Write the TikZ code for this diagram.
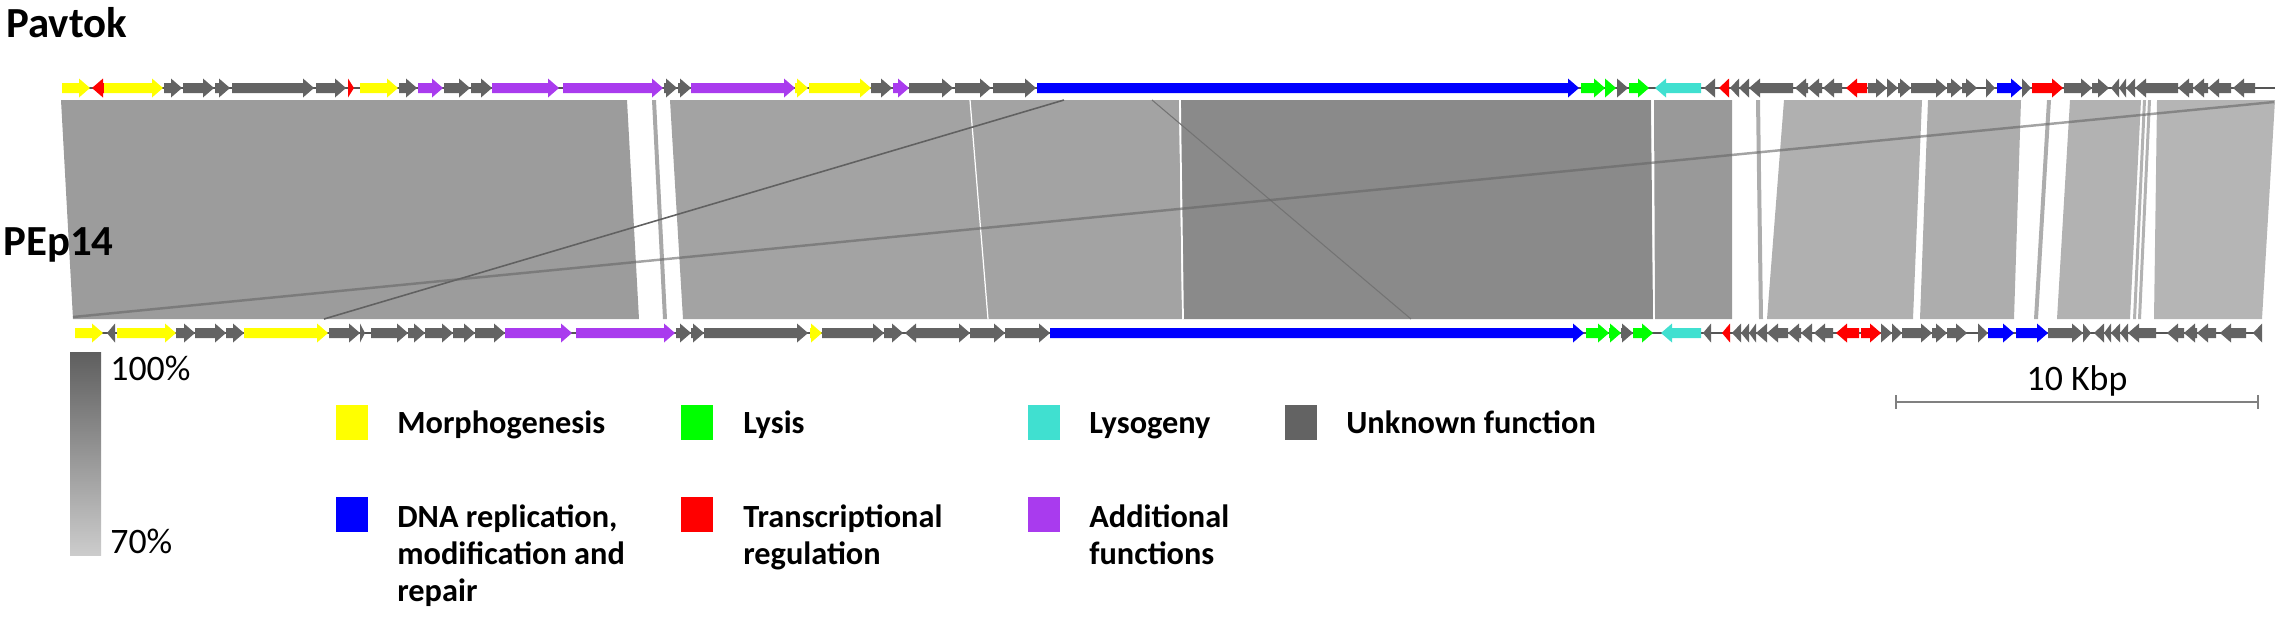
\documentclass[tikz,border=0pt]{standalone}
\usepackage{fontspec}
\setmainfont{Carlito}
\definecolor{morph}{HTML}{FFFF00}
\definecolor{lysis}{HTML}{00FF00}
\definecolor{lysog}{HTML}{40E0D0}
\definecolor{unk}{HTML}{636363}
\definecolor{dna}{HTML}{0000FF}
\definecolor{trans}{HTML}{FF0000}
\definecolor{addf}{HTML}{A93BEE}
\definecolor{trk}{HTML}{555555}
\newcommand{\genearrow}[5]{%
  \pgfmathsetmacro{\headlen}{min(11,(#2)-(#1))}%
  \if#4R%
    \fill[#5] (#1,#3-5) -- ({#2-\headlen},#3-5) -- ({#2-\headlen},#3-9.5) -- (#2,#3) -- ({#2-\headlen},#3+9.5) -- ({#2-\headlen},#3+5) -- (#1,#3+5) -- cycle;
  \else
    \fill[#5] (#2,#3-5) -- ({#1+\headlen},#3-5) -- ({#1+\headlen},#3-9.5) -- (#1,#3) -- ({#1+\headlen},#3+9.5) -- ({#1+\headlen},#3+5) -- (#2,#3+5) -- cycle;
  \fi}
\tikzset{
  trackline/.style={draw=trk, line width=1pt},
  genome/.style={font=\fontsize{24.4pt}{26pt}\selectfont\bfseries, anchor=base west, inner sep=0pt},
  legtext/.style={font=\fontsize{18.4pt}{20pt}\selectfont\bfseries, anchor=base west, inner sep=0pt},
  scaletext/.style={font=\fontsize{20.4pt}{22pt}\selectfont, anchor=base west, inner sep=0pt},
  legbox/.style={inner sep=0pt, minimum width=0.64cm, minimum height=0.7cm, draw=none},
  sep/.style={draw=white, line width=0.7pt},
  match/.style={draw=#1, line width=0.9pt},
}
\begin{document}
\begin{tikzpicture}[x=0.02cm, y=-0.02cm]
\useasboundingbox (0,0) rectangle (2286,620);
% comparison blocks
\fill[black!39] (61,100) -- (627,100) -- (639,319) -- (73,319) -- cycle;
\fill[black!34] (652,100) -- (656,100) -- (667,319) -- (663,319) -- cycle;
\fill[black!36] (670,100) -- (1179,100) -- (1182,319) -- (683,319) -- cycle;
\fill[black!46] (1180,100) -- (1651,100) -- (1653,319) -- (1183,319) -- cycle;
\fill[black!40] (1654,100) -- (1732,100) -- (1732,319) -- (1655,319) -- cycle;
\fill[black!32] (1756,100) -- (1760,100) -- (1763,319) -- (1759,319) -- cycle;
\fill[black!31] (1784,100) -- (1922,100) -- (1913,319) -- (1767,319) -- cycle;
\fill[black!32] (1928,100) -- (2021,100) -- (2014,319) -- (1920,319) -- cycle;
\fill[black!32] (2047,100) -- (2051,100) -- (2038,319) -- (2034,319) -- cycle;
\fill[black!30] (2070,100) -- (2141,100) -- (2130,319) -- (2057,319) -- cycle;
\fill[black!30] (2143,100) -- (2146,100) -- (2136,319) -- (2133,319) -- cycle;
\fill[black!30] (2148,100) -- (2151,100) -- (2141,319) -- (2138,319) -- cycle;
\fill[black!29] (2157,100) -- (2275,100) -- (2262,319) -- (2154,319) -- cycle;
% thin separators inside blocks
\draw[sep] (970,100) -- (988,319);
\draw[sep, line width=1pt] (1180,100) -- (1183,319);
\draw[sep] (1652,100) -- (1654,319);
% crossing matches
\draw[match=black!62] (1064,100) -- (324,319);
\draw[match=black!55, line width=0.6pt] (1152,100) -- (1411,319);
\draw[draw=black!60, line width=1.4pt, opacity=0.6] (2274,102) -- (73,317);
% tracks
\draw[trackline] (62,88) -- (2275,88);
\draw[trackline] (75,333) -- (2262,333);
% top genes (Pavtok)
\foreach \xa/\xb/\dd/\cc in {62/90/R/morph,92/104/L/trans,104/163/R/morph,164/182/R/unk,183/214/R/unk,215/230/R/unk,232/314/R/unk,316/346/R/unk,348/354/R/trans,360/398/R/morph,399/417/R/unk,418/443/R/addf,444/470/R/unk,471/492/R/unk,492/559/R/addf,563/663/R/addf,664/677/R/unk,678/691/R/unk,691/795/R/addf,795/808/R/morph,809/871/R/morph,871/892/R/unk,893/909/R/addf,909/953/R/unk,955/991/R/unk,993/1036/R/unk,1037/1579/R/dna,1581/1605/R/lysis,1605/1616/R/lysis,1617/1628/R/unk,1629/1649/R/lysis,1655/1701/L/lysog,1704/1715/L/unk,1719/1729/L/trans,1730/1739/L/unk,1739/1749/L/unk,1749/1793/L/unk,1795/1808/L/unk,1808/1822/L/unk,1823/1842/L/unk,1846/1867/L/trans,1868/1887/R/unk,1887/1898/R/unk,1898/1911/R/unk,1911/1947/R/unk,1947/1962/R/unk,1962/1977/R/unk,1986/1995/R/unk,1997/2022/R/dna,2022/2031/R/unk,2032/2063/R/trans,2064/2092/R/unk,2092/2109/R/unk,2111/2119/L/unk,2119/2126/L/unk,2126/2135/L/unk,2135/2178/L/unk,2178/2193/L/unk,2193/2208/L/unk,2208/2231/L/unk,2233/2255/L/unk}
  {\genearrow{\xa}{\xb}{88}{\dd}{\cc}}
% bottom genes (PEp14)
\foreach \xa/\xb/\dd/\cc in {75/103/R/morph,107/115/L/unk,117/176/R/morph,176/195/R/unk,195/226/R/unk,226/244/R/unk,244/328/R/morph,329/360/R/unk,360/365/R/unk,371/408/R/unk,408/425/R/unk,425/453/R/unk,453/475/R/unk,475/505/R/unk,505/572/R/addf,576/675/R/addf,676/691/R/unk,691/704/R/unk,704/808/R/unk,810/822/R/morph,822/884/R/unk,884/903/R/unk,905/922/L/unk,922/970/R/unk,970/1005/R/unk,1005/1050/R/unk,1050/1584/R/dna,1586/1609/R/lysis,1609/1621/R/lysis,1621/1633/R/unk,1633/1653/R/lysis,1661/1701/L/lysog,1703/1711/L/unk,1722/1730/L/trans,1732/1741/L/unk,1741/1749/L/unk,1749/1756/L/unk,1756/1767/L/unk,1767/1788/L/unk,1788/1801/L/unk,1801/1812/L/unk,1814/1833/L/unk,1836/1859/L/trans,1861/1881/R/trans,1881/1892/R/unk,1892/1902/R/unk,1902/1932/R/unk,1932/1947/R/unk,1947/1967/R/unk,1978/1988/R/unk,1988/2014/R/dna,2016/2048/R/dna,2048/2083/R/unk,2083/2091/R/unk,2094/2104/L/unk,2104/2111/L/unk,2111/2120/L/unk,2120/2128/L/unk,2128/2156/L/unk,2167/2184/L/unk,2184/2197/L/unk,2197/2216/L/unk,2220/2246/L/unk,2253/2262/L/unk}
  {\genearrow{\xa}{\xb}{333}{\dd}{\cc}}
% genome names
\node[genome] (pavtok) at (6,37) {Pavtok};
\node[genome] (pep14) at (3,255) {PEp14};
% identity gradient
\shade[top color=black!63, bottom color=black!20] (70,352) rectangle (101,555);
\node[scaletext] (p100) at (110,380) {100\%};
\node[scaletext] (p70) at (110,553) {70\%};
% scale bar
\draw[draw=black!50, line width=1.6pt] (1896,402) -- (2258,402);
\draw[draw=black!50, line width=0.8pt] (1896,395) -- (1896,409);
\draw[draw=black!50, line width=0.8pt] (2258,395) -- (2258,409);
\node[scaletext, anchor=base] (kbp) at (2077,390) {10 Kbp};
% legend
\node[legbox, fill=morph] (sqmorph) at (352,422) {};
\node[legtext] (tmorph) at (397,433) {Morphogenesis};
\node[legbox, fill=lysis] (sqlysis) at (697,422) {};
\node[legtext] (tlysis) at (743,433) {Lysis};
\node[legbox, fill=lysog] (sqlysog) at (1044,422) {};
\node[legtext] (tlysog) at (1089,433) {Lysogeny};
\node[legbox, fill=unk] (squnk) at (1301,422) {};
\node[legtext] (tunk) at (1346,433) {Unknown function};
\node[legbox, fill=dna] (sqdna) at (352,514) {};
\node[legtext] (tdna1) at (397,527) {DNA replication,};
\node[legtext] (tdna2) at (397,564) {modification and};
\node[legtext] (tdna3) at (397,601) {repair};
\node[legbox, fill=trans] (sqtrans) at (697,514) {};
\node[legtext] (ttrans1) at (743,527) {Transcriptional};
\node[legtext] (ttrans2) at (743,564) {regulation};
\node[legbox, fill=addf] (sqaddf) at (1044,514) {};
\node[legtext] (taddf1) at (1089,527) {Additional};
\node[legtext] (taddf2) at (1089,564) {functions};
\end{tikzpicture}
\end{document}
